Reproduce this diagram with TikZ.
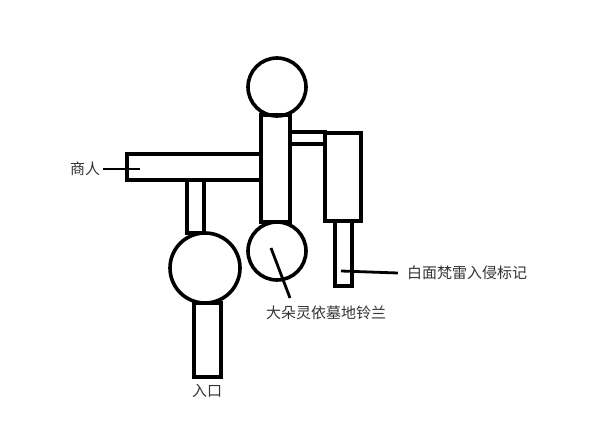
\documentclass[tikz,border=0pt]{standalone}
\usepackage{fontspec}
\newfontfamily\cjk{Noto Sans CJK SC}
\begin{document}
\begin{tikzpicture}[x=1pt,y=-1pt,
  part/.style={line width=3.6pt},
  lead/.style={line width=2.8pt},
  lbl/.style={font=\cjk\fontsize{15}{15}\selectfont, text=black!80, inner sep=0pt}]
\useasboundingbox (0,0) rectangle (597,425);
% body parts
\draw[part] (277,87) circle (29);
\draw[part] (261,115) rectangle (290,222);
\draw[part] (290,132) rectangle (325,144);
\draw[part] (325,133) rectangle (361,221);
\draw[part] (127,154) rectangle (261,180);
\draw[part] (187,180) rectangle (204,233);
\draw[part] (205,268) circle (35);
\draw[part] (277,251) circle (29);
\draw[part] (194,303) rectangle (221,377);
\draw[part] (335,221) rectangle (352,286);
% labels
\node[lbl] (merchant) at (85,169) {商人};
\coordinate (merchantTip) at (140,169);
\draw[lead] (merchant.east) ++(3,0) -- (merchantTip);
\node[lbl] (lily) at (326,313) {大朵灵依墓地铃兰};
\coordinate (lilyTip) at (271,248);
\coordinate (lilyEnd) at (290,298);
\draw[lead] (lilyTip) -- (lilyEnd);
\node[lbl] (entrance) at (207,391) {入口};
\node[lbl] (invasion) at (467,273) {白面梵雷入侵标记};
\coordinate (invTip) at (341,271);
\draw[lead] (invTip) -- ([xshift=-9pt]invasion.west);
\end{tikzpicture}
\end{document}
